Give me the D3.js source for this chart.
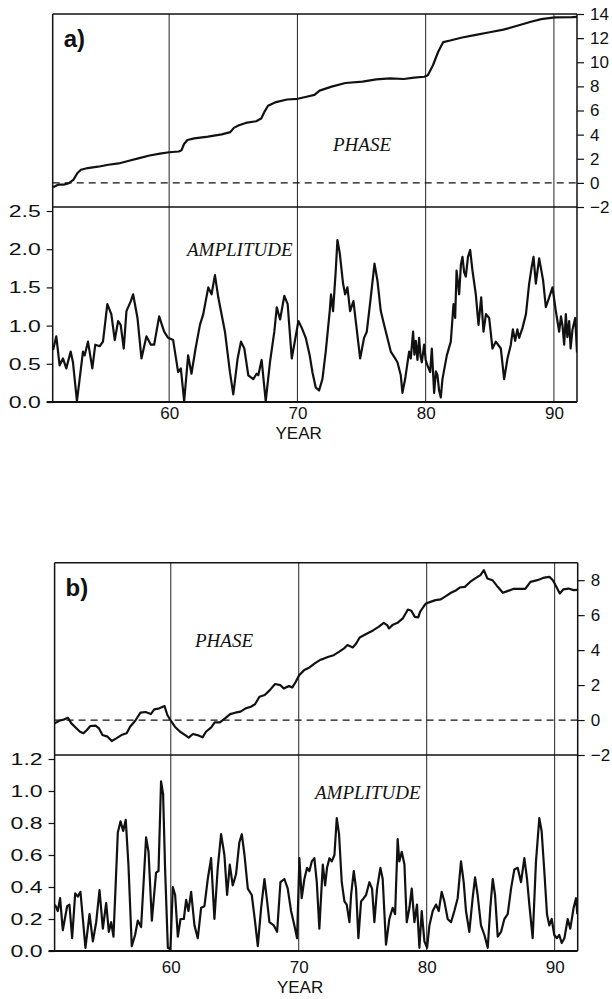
<!DOCTYPE html>
<html>
<head>
<meta charset="utf-8">
<script src="https://cdn.jsdelivr.net/npm/d3@7"></script>
<style>
  body { margin: 0; background: #fff; }
  svg { display: block; }
  .tick text { font-family: "Liberation Sans", Arial, sans-serif; font-size: 17px; fill: #111; }
  .tick line { stroke: #111; stroke-width: 1.2; }
</style>
</head>
<body>
<div class="container"></div>
<script>
// x ticks (years, 19xx)
var yearTicks = [60, 70, 80, 90];

// panel a) phase / amplitude ticks
var phaseTicksA = [-2, 0, 2, 4, 6, 8, 10, 12, 14];
var ampTicksA = [0, 0.5, 1.0, 1.5, 2.0, 2.5];
// panel b)
var phaseTicksB = [-2, 0, 2, 4, 6, 8];
var ampTicksB = [0, 0.2, 0.4, 0.6, 0.8, 1.0, 1.2];

// a) phase
var phaseAYears = [50.95, 51.37, 51.78, 52.18, 52.53, 52.85, 53.12, 53.65, 54.45, 55.26, 56.06, 56.87, 57.67, 58.47, 59.28, 60.0, 60.75, 60.96, 61.15, 61.42, 61.96, 63.03, 64.10, 64.77, 65.04, 65.44, 65.97, 66.78, 67.18, 67.45, 67.71, 68.25, 69.19, 70.02, 70.80, 71.33, 71.73, 72.67, 73.74, 75.08, 76.15, 77.22, 78.30, 79.10, 79.90, 80.17, 80.57, 80.97, 81.37, 81.91, 82.85, 83.92, 84.99, 86.06, 87.14, 88.21, 89.01, 90.08, 91.42, 91.8];
var phaseAValues = [-0.36, -0.14, -0.14, -0.03, 0.25, 0.82, 1.09, 1.23, 1.34, 1.50, 1.61, 1.83, 2.05, 2.27, 2.43, 2.54, 2.60, 2.70, 3.20, 3.55, 3.69, 3.83, 4.02, 4.21, 4.56, 4.78, 4.97, 5.11, 5.33, 5.93, 6.39, 6.67, 6.91, 6.97, 7.16, 7.30, 7.65, 7.98, 8.28, 8.39, 8.58, 8.66, 8.61, 8.72, 8.80, 8.93, 9.75, 10.85, 11.67, 11.80, 12.05, 12.27, 12.49, 12.70, 13.03, 13.36, 13.58, 13.72, 13.74, 13.76];

// a) amplitude
var ampAYears = [50.95, 51.2, 51.46, 51.72, 51.98, 52.32, 52.5, 52.81, 53.28, 53.41, 53.67, 54.01, 54.24, 54.58, 54.84, 55.18, 55.49, 55.76, 56.02, 56.22, 56.46, 56.67, 57.01, 57.19, 57.53, 57.84, 58.23, 58.57, 58.83, 59.22, 59.61, 59.92, 60.31, 60.70, 60.91, 61.17, 61.48, 61.74, 62.06, 62.40, 62.66, 63.05, 63.31, 63.57, 63.83, 64.35, 64.74, 65.0, 65.34, 65.60, 65.86, 66.17, 66.56, 66.82, 66.95, 67.21, 67.53, 67.86, 68.20, 68.39, 68.65, 68.98, 69.24, 69.56, 70.08, 70.34,
  70.65, 70.96, 71.17, 71.43, 71.69, 71.95, 72.21, 72.52, 72.62, 72.78, 72.99, 73.12, 73.30, 73.56, 73.72, 73.90, 74.11, 74.37, 74.55, 74.89, 75.20, 75.41, 75.72, 76.01, 76.24, 76.50, 76.76, 77.28, 77.62, 77.80, 78.06, 78.19, 78.40, 78.71, 78.84, 79.02, 79.12, 79.23, 79.36, 79.49, 79.60, 79.70, 79.88, 80.00, 80.14, 80.35, 80.48, 80.66, 80.80, 80.92, 81.05, 81.18, 81.31, 81.65, 81.96, 82.17, 82.30, 82.41, 82.61, 82.75, 82.87, 83.00, 83.13, 83.30, 83.47, 83.65, 83.91, 84.12, 84.33, 84.51, 84.70, 84.95, 85.21, 85.47, 85.86, 86.12, 86.38, 86.64, 86.80, 86.98, 87.15, 87.29, 87.55, 87.82, 88.07, 88.25, 88.41, 88.59, 88.85, 89.16, 89.37, 89.63, 89.89, 90.15, 90.41, 90.55, 90.67, 90.80, 90.93, 91.05, 91.19, 91.30, 91.45, 91.66, 91.80];
var ampAValues = [0.68, 0.86, 0.48, 0.57, 0.44, 0.66, 0.52, 0.01, 0.66, 0.61, 0.79, 0.44, 0.75, 0.73, 0.79, 1.28, 1.15, 0.81, 1.06, 1.01, 0.70, 1.19, 1.32, 1.41, 1.10, 0.57, 0.86, 0.75, 0.75, 1.12, 0.92, 0.84, 0.81, 0.39, 0.44, 0.01, 0.61, 0.37, 0.70, 1.01, 1.15, 1.50, 1.41, 1.66, 1.37, 0.92, 0.39, 0.10, 0.57, 0.79, 0.70, 0.35, 0.30, 0.37, 0.35, 0.55, 0.01, 0.52, 0.92, 1.24, 1.08, 1.39, 1.28, 0.57, 1.06, 0.97,
  0.84, 0.61, 0.39, 0.19, 0.15, 0.30, 0.66, 1.19, 1.41, 1.19, 1.72, 2.12, 1.95, 1.55, 1.41, 1.50, 1.19, 1.32, 1.06, 0.57, 0.84, 0.92, 1.37, 1.81, 1.59, 1.19, 1.01, 0.66, 0.57, 0.52, 0.35, 0.12, 0.30, 0.66, 0.57, 0.92, 0.62, 0.80, 0.55, 0.84, 0.60, 0.52, 0.75, 0.55, 0.48, 0.39, 0.70, 0.12, 0.40, 0.35, 0.15, 0.06, 0.30, 0.61, 0.79, 1.28, 1.10, 1.72, 1.41, 1.80, 1.90, 1.70, 1.64, 1.90, 1.99, 1.72, 1.41, 1.01, 1.37, 0.92, 1.15, 1.10, 0.70, 0.79, 0.70, 0.30, 0.57, 0.75, 0.95, 0.80, 0.95, 0.84, 0.97, 1.15, 1.55, 1.75, 1.90, 1.55, 1.88, 1.59, 1.24, 1.37, 1.50, 1.19, 0.92, 1.12, 1.00, 0.75, 1.15, 0.85, 1.06, 0.70, 0.95, 1.10, 0.65];

// b) phase
var phaseBYears = [50.92, 51.29, 51.69, 51.96, 52.23, 52.64, 52.91, 53.18, 53.44, 53.71, 54.12, 54.39, 54.66, 55.06, 55.39, 55.74, 56.14, 56.55, 56.82, 57.22, 57.63, 58.03, 58.44, 58.71, 59.11, 59.51, 59.73, 60.0, 60.32, 60.73, 61.13, 61.40, 61.73, 62.08, 62.48, 62.75, 63.16, 63.43, 63.83, 64.24, 64.64, 65.04, 65.45, 65.85, 66.26, 66.58, 66.93, 67.34, 67.74, 68.15, 68.55, 68.82, 69.23, 69.50, 69.77, 70.04, 70.44, 70.84, 71.25, 71.65, 71.92, 72.33, 72.73, 73.14, 73.54, 73.81, 74.22, 74.49, 74.76, 75.16, 75.57, 75.83, 76.24, 76.64, 76.91, 77.05, 77.32, 77.72, 78.13, 78.53, 78.80, 79.07, 79.34, 79.48, 79.75, 79.94, 80.29, 80.69, 81.10, 81.50, 81.90, 82.31, 82.58, 82.98, 83.39, 83.79, 84.20, 84.47, 84.74, 85.14, 85.55, 85.95, 86.36, 86.76, 87.16, 87.70, 88.11, 88.65, 89.19, 89.59, 89.86, 90.13, 90.40, 90.67, 91.08, 91.48, 91.77];
var phaseBValues = [-0.19, -0.04, 0.04, 0.13, -0.19, -0.48, -0.67, -0.76, -0.57, -0.34, -0.32, -0.48, -0.86, -0.95, -1.20, -1.05, -0.86, -0.76, -0.38, -0.04, 0.42, 0.46, 0.34, 0.61, 0.67, 0.80, 0.29, -0.04, -0.38, -0.67, -0.86, -1.01, -0.80, -0.86, -0.99, -0.67, -0.42, -0.13, -0.13, 0.10, 0.34, 0.42, 0.48, 0.67, 0.76, 0.90, 1.33, 1.43, 1.71, 2.06, 2.00, 1.81, 1.94, 1.87, 2.19, 2.57, 2.86, 3.01, 3.24, 3.43, 3.50, 3.62, 3.71, 3.90, 4.10, 4.29, 4.15, 4.38, 4.72, 4.88, 5.03, 5.14, 5.33, 5.56, 5.43, 5.24, 5.43, 5.56, 5.81, 6.32, 6.25, 5.90, 5.87, 6.19, 6.48, 6.67, 6.76, 6.86, 6.90, 7.09, 7.28, 7.43, 7.58, 7.62, 7.90, 8.10, 8.29, 8.57, 8.10, 8.00, 7.62, 7.28, 7.39, 7.50, 7.50, 7.50, 7.90, 8.00, 8.15, 8.19, 8.00, 7.62, 7.24, 7.47, 7.52, 7.43, 7.45];

// b) amplitude
var ampBYears = [50.95, 51.17, 51.35, 51.56, 51.90, 52.08, 52.29, 52.53, 52.74, 52.94, 53.13, 53.33, 53.65, 53.91, 54.17, 54.43, 54.69, 54.95, 55.16, 55.34, 55.52, 55.68, 55.86, 56.07, 56.28, 56.48, 56.69, 56.95, 57.21, 57.42, 57.68, 57.94, 58.07, 58.26, 58.52, 58.85, 59.04, 59.24, 59.40, 59.56, 59.77, 59.97, 60.16, 60.34, 60.55, 60.76, 61.02, 61.20, 61.38, 61.59, 61.85, 62.11, 62.37, 62.63, 62.89, 63.15, 63.41, 63.67, 63.93, 64.19, 64.40, 64.61, 64.84, 65.10, 65.36, 65.55, 65.76, 66.02, 66.33, 66.59, 66.80, 67.06, 67.32, 67.53, 67.71, 68.05, 68.31, 68.57, 68.88, 69.14, 69.40, 69.66, 69.87, 70.05, 70.23,
  70.44, 70.65, 70.83, 71.02, 71.22, 71.41, 71.61, 71.88, 72.06, 72.21, 72.40, 72.58, 72.79, 72.97, 73.15, 73.36, 73.57, 73.75, 73.96, 74.09, 74.30, 74.48, 74.66, 74.87, 75.08, 75.26, 75.52, 75.73, 75.91, 76.12, 76.38, 76.56, 76.82, 77.08, 77.34, 77.53, 77.73, 77.86, 78.05, 78.26, 78.44, 78.65, 78.83, 79.04, 79.24, 79.43, 79.61, 79.82, 80.03, 80.21, 80.47, 80.73, 80.94, 81.17, 81.38, 81.64, 81.90, 82.16, 82.42, 82.68, 82.89, 83.07, 83.33, 83.59, 83.78, 83.98, 84.24, 84.51, 84.77, 84.97, 85.16, 85.34, 85.55, 85.81, 86.07, 86.33, 86.59, 86.85, 87.11, 87.37, 87.63, 87.84, 88.02, 88.28, 88.54, 88.80, 88.98, 89.19, 89.40, 89.58, 89.77, 89.97, 90.18, 90.36, 90.55, 90.76, 91.02, 91.22, 91.48, 91.67, 91.77];
var ampBValues = [0.29, 0.25, 0.33, 0.13, 0.28, 0.29, 0.08, 0.36, 0.34, 0.37, 0.20, 0.02, 0.23, 0.06, 0.18, 0.38, 0.14, 0.30, 0.12, 0.18, 0.09, 0.39, 0.74, 0.81, 0.75, 0.82, 0.54, 0.03, 0.10, 0.19, 0.15, 0.52, 0.71, 0.62, 0.19, 0.49, 0.50, 1.06, 0.98, 0.50, 0.02, 0.01, 0.40, 0.35, 0.09, 0.20, 0.20, 0.32, 0.25, 0.37, 0.16, 0.08, 0.27, 0.28, 0.45, 0.58, 0.20, 0.52, 0.73, 0.60, 0.35, 0.54, 0.41, 0.48, 0.68, 0.73, 0.60, 0.39, 0.35, 0.18, 0.03, 0.27, 0.45, 0.31, 0.18, 0.16, 0.12, 0.43, 0.45, 0.39, 0.25, 0.16, 0.08, 0.58, 0.33,
  0.45, 0.52, 0.50, 0.56, 0.58, 0.43, 0.14, 0.54, 0.41, 0.52, 0.58, 0.56, 0.60, 0.83, 0.73, 0.43, 0.31, 0.29, 0.18, 0.35, 0.50, 0.39, 0.08, 0.31, 0.33, 0.35, 0.43, 0.39, 0.18, 0.39, 0.52, 0.45, 0.04, 0.20, 0.27, 0.23, 0.70, 0.56, 0.62, 0.54, 0.18, 0.27, 0.39, 0.18, 0.29, 0.02, 0.25, 0.06, 0.02, 0.16, 0.25, 0.29, 0.25, 0.37, 0.31, 0.20, 0.18, 0.25, 0.33, 0.56, 0.43, 0.25, 0.12, 0.33, 0.46, 0.35, 0.16, 0.10, 0.02, 0.27, 0.45, 0.35, 0.09, 0.12, 0.20, 0.23, 0.39, 0.51, 0.52, 0.43, 0.58, 0.45, 0.29, 0.08, 0.56, 0.83, 0.75, 0.50, 0.23, 0.16, 0.20, 0.10, 0.08, 0.10, 0.05, 0.08, 0.20, 0.14, 0.27, 0.33, 0.23];

var zip = function (xs, ys) {
  return xs.map(function (x, i) { return [x, ys[i]]; });
};

var translate = function (x, y) {
  return "translate(" + x + "," + y + ")";
};

var svg = d3.select('.container').append('svg')
  .attr('width', 612)
  .attr('height', 999);

var INK = '#111';

var drawPanel = function (p) {
  var g = svg.append('g');

  var x = d3.scaleLinear().domain([50.92, 91.8]).range([p.left, p.right]);
  var yPhase = d3.scaleLinear().domain(p.phaseDomain).range([p.phaseBottom, p.top]);
  var yAmp = d3.scaleLinear().domain([0, p.ampMax]).range([p.ampBottom, p.ampTop]);

  var clipId = 'clip' + p.name;
  svg.append('clipPath').attr('id', clipId)
    .append('rect')
    .attr('x', p.left).attr('y', p.top - 2)
    .attr('width', p.right - p.left).attr('height', p.ampBottom - p.top + 2);

  // vertical year lines through both parts
  g.selectAll('.grid')
    .data(yearTicks)
    .enter().append('line')
    .attr('x1', function (d) { return x(d); })
    .attr('x2', function (d) { return x(d); })
    .attr('y1', p.top)
    .attr('y2', p.ampBottom)
    .attr('stroke', '#222')
    .attr('stroke-width', 1);

  // zero phase dashed line
  g.append('line')
    .attr('x1', p.left).attr('x2', p.right)
    .attr('y1', yPhase(0)).attr('y2', yPhase(0))
    .attr('stroke', INK)
    .attr('stroke-width', 1.3)
    .attr('stroke-dasharray', '7,5');

  // frame
  var frame = [
    [p.left, p.top, p.right, p.top, 1.5],
    [p.left, p.phaseBottom, p.right, p.phaseBottom, 1.5],
    [p.left, p.top, p.left, p.ampBottom, 1.5],
    [p.right, p.top, p.right, p.ampBottom, 1.5],
    [p.left - 6, p.ampBottom, p.right, p.ampBottom, 2]
  ];
  g.selectAll('.frame')
    .data(frame)
    .enter().append('line')
    .attr('x1', function (d) { return d[0]; })
    .attr('y1', function (d) { return d[1]; })
    .attr('x2', function (d) { return d[2]; })
    .attr('y2', function (d) { return d[3]; })
    .attr('stroke', INK)
    .attr('stroke-width', function (d) { return d[4]; });

  // phase axis on the right
  var right = g.append('g')
    .attr('transform', translate(p.right, 0))
    .call(d3.axisRight(yPhase).tickValues(p.phaseTicks).tickSize(7).tickPadding(6)
      .tickFormat(d3.format('d')));
  right.select('.domain').remove();

  // amplitude axis on the left (old typesetting: wide decimal labels)
  var left = g.append('g')
    .attr('transform', translate(p.left, 0))
    .call(d3.axisLeft(yAmp).tickValues(p.ampTicks).tickSize(6).tickPadding(6)
      .tickFormat(d3.format('.1f')));
  left.select('.domain').remove();
  left.selectAll('.tick text')
    .attr('textLength', 32)
    .attr('lengthAdjust', 'spacingAndGlyphs');

  // year labels
  var bottom = g.append('g')
    .attr('transform', translate(0, p.ampBottom))
    .call(d3.axisBottom(x).tickValues(yearTicks).tickSize(0).tickPadding(p.yearPad)
      .tickFormat(d3.format('d')));
  bottom.select('.domain').remove();

  g.append('text')
    .attr('x', x(70.1))
    .attr('y', p.ampBottom + p.titlePad)
    .attr('text-anchor', 'middle')
    .style('font-family', '"Liberation Sans", Arial, sans-serif')
    .style('font-size', '17px')
    .attr('fill', INK)
    .text('YEAR');

  var line = function (yScale) {
    return d3.line()
      .x(function (d) { return x(d[0]); })
      .y(function (d) { return yScale(d[1]); });
  };

  var lines = g.append('g').attr('clip-path', 'url(#' + clipId + ')');
  lines.append('path')
    .attr('d', line(yPhase)(p.phase))
    .attr('fill', 'none')
    .attr('stroke', INK)
    .attr('stroke-width', 2.2)
    .attr('stroke-linejoin', 'round');
  lines.append('path')
    .attr('d', line(yAmp)(p.amp))
    .attr('fill', 'none')
    .attr('stroke', INK)
    .attr('stroke-width', 2.2)
    .attr('stroke-linejoin', 'round');

  // panel letter
  g.append('text')
    .attr('x', p.left + 11)
    .attr('y', p.top + 33)
    .style('font-family', '"Liberation Sans", Arial, sans-serif')
    .style('font-size', '24px')
    .style('font-weight', 'bold')
    .attr('fill', INK)
    .text(p.name + ')');

  g.append('text')
    .attr('x', p.phaseLabel[0]).attr('y', p.phaseLabel[1])
    .style('font-family', '"Liberation Serif", "Times New Roman", serif')
    .style('font-style', 'italic')
    .style('font-size', '19px')
    .attr('fill', INK)
    .text('PHASE');

  g.append('text')
    .attr('x', p.ampLabel[0]).attr('y', p.ampLabel[1])
    .style('font-family', '"Liberation Serif", "Times New Roman", serif')
    .style('font-style', 'italic')
    .style('font-size', '19px')
    .attr('fill', INK)
    .text('AMPLITUDE');
};

drawPanel({
  name: 'a',
  left: 52.7, right: 577, top: 14,
  phaseBottom: 207, ampTop: 211, ampBottom: 402,
  phaseDomain: [-2, 14], ampMax: 2.5,
  phaseTicks: phaseTicksA, ampTicks: ampTicksA,
  phase: zip(phaseAYears, phaseAValues),
  amp: zip(ampAYears, ampAValues),
  phaseLabel: [333, 151], ampLabel: [187, 256],
  yearPad: 5, titlePad: 37
});

drawPanel({
  name: 'b',
  left: 54.6, right: 577.7, top: 562.7,
  phaseBottom: 755, ampTop: 759, ampBottom: 951,
  phaseDomain: [-2, 9], ampMax: 1.2,
  phaseTicks: phaseTicksB, ampTicks: ampTicksB,
  phase: zip(phaseBYears, phaseBValues),
  amp: zip(ampBYears, ampBValues),
  phaseLabel: [195, 647], ampLabel: [315, 799],
  yearPad: 10, titlePad: 42
});
</script>
</body>
</html>
